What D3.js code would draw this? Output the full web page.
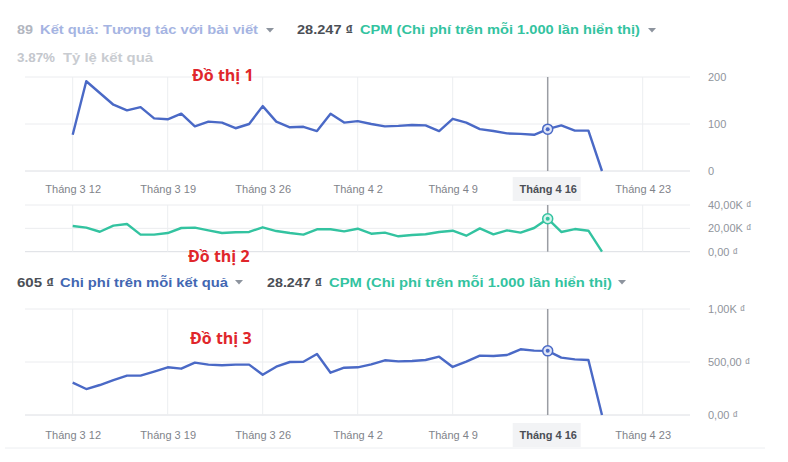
<!DOCTYPE html>
<html><head><meta charset="utf-8">
<script src="https://cdn.jsdelivr.net/npm/d3@7"></script>
<style>
html,body{margin:0;padding:0;background:#fff;}
svg{display:block;font-family:"Liberation Sans",Arial,sans-serif;}
</style></head>
<body><svg id="c" width="788" height="462"></svg>
<script>
// ---- data ----
const startDate = new Date(Date.UTC(2018, 2, 12));
const endDate = new Date(Date.UTC(2018, 3, 21));
const results = [77,191,166,141,129,136,112,110,122,95,105,103,91,100,138,105,93,94,85,122,103,106,100,95,96,98,97,85,111,103,89,85,80,79,77,89,97,86,86,0];
const cpm = [22000,20600,17100,22300,23700,14600,14600,16000,20300,20600,18300,16000,16600,16900,20900,17700,16000,14600,19200,19200,17400,19700,15400,16300,13200,14300,14900,16900,18000,13700,20000,14900,18300,16300,20300,28247,16900,19400,18000,0];
const costPerResult = [305,245,283,330,371,371,409,450,437,494,475,469,475,475,380,456,500,503,575,399,446,450,478,516,506,509,519,550,453,503,560,556,566,620,607,605,541,525,519,0];
const ticks1 = [0,100,200];
const ticks2 = [0,20000,40000];
const ticks3 = [0,500,1000];
const tickLabels1 = ["0","100","200"];
const tickLabels2 = ["0,00 ₫","20,00K ₫","40,00K ₫"];
const tickLabels3 = ["0,00 ₫","500,00 ₫","1,00K ₫"];
const hoverDate = new Date(Date.UTC(2018, 3, 16));

const dates = d3.utcDay.range(startDate, endDate);
const svg = d3.select("#c");

const BLUE = "#4a69c6", TEAL = "#33c3a0";
const x = d3.scaleUtc().domain([startDate, new Date(Date.UTC(2018,3,23))]).range([72.7, 642.7]);
const weekTicks = d3.utcMonday.range(startDate, new Date(Date.UTC(2018,3,24)));
const fmt = d => `Tháng ${d.getUTCMonth()+1} ${d.getUTCDate()}`;
const isHover = d => +d === +hoverDate;

function panel(values, yDom, yRange, tickVals, tickLabs, color, xLabelY) {
  const y = d3.scaleLinear().domain(yDom).range(yRange);
  const g = svg.append("g");
  g.selectAll("line.h").data(tickVals).join("line")
    .attr("x1", 25).attr("x2", 690)
    .attr("y1", d => y(d)).attr("y2", d => y(d))
    .attr("stroke", (d,i) => i === 0 ? "#dcdee3" : "#ebecef").attr("stroke-width", 1);
  g.selectAll("line.v").data(weekTicks).join("line")
    .attr("x1", d => x(d)).attr("x2", d => x(d))
    .attr("y1", y(yDom[1])).attr("y2", y(yDom[0]))
    .attr("stroke", d => isHover(d) ? "#9a9da3" : "#eceef0")
    .attr("stroke-width", d => isHover(d) ? 1.5 : 1);
  g.selectAll("text.yl").data(tickVals).join("text")
    .attr("x", 708).attr("y", d => y(d)).attr("dy", "0.35em")
    .attr("font-size", 11).attr("fill", "#90949c")
    .text((d,i) => tickLabs[i]);
  const line = d3.line().x((d,i) => x(dates[i])).y(d => y(d));
  g.append("path").datum(values).attr("d", line)
    .attr("fill", "none").attr("stroke", color).attr("stroke-width", 2.4)
    .attr("stroke-linejoin", "round");
  const hi = dates.findIndex(isHover);
  g.append("circle").attr("cx", x(dates[hi])).attr("cy", y(values[hi])).attr("r", 5)
    .attr("fill", color === BLUE ? "#dfe5f7" : "#d6f3ec").attr("stroke", color).attr("stroke-width", 1.5);
  g.append("circle").attr("cx", x(dates[hi])).attr("cy", y(values[hi])).attr("r", 2)
    .attr("fill", color);
  if (xLabelY) {
    const xa = d3.axisBottom(x).tickValues(weekTicks).tickSize(0).tickFormat(fmt);
    const ax = g.append("g").attr("transform", `translate(0,${xLabelY})`);
    ax.append("rect").attr("x", x(hoverDate) - 35).attr("y", -12).attr("width", 68).attr("height", 24).attr("fill", "#f2f3f5");
    ax.call(xa);
    ax.select(".domain").remove();
    ax.selectAll("text").attr("dy", "0.35em").attr("y", 0)
      .attr("font-size", 11).attr("font-family", "'Liberation Sans', Arial, sans-serif")
      .attr("fill", d => isHover(d) ? "#4b4f56" : "#7f838a")
      .attr("font-weight", d => isHover(d) ? "bold" : "normal");
  }
}

panel(results, [0,200], [171,77], ticks1, tickLabels1, BLUE, 189);
panel(cpm, [0,40000], [251.7,205], ticks2, tickLabels2, TEAL, null);
panel(costPerResult, [0,1000], [415,309], ticks3, tickLabels3, BLUE, 435);

svg.append("line").attr("x1", 5).attr("x2", 765).attr("y1", 448).attr("y2", 448).attr("stroke", "#eceef1");

// headers: each part placed at its own x with a fitted width
function header(yPos, parts) {
  parts.forEach(p => {
    const t = svg.append("text").attr("x", p.x).attr("y", yPos)
      .attr("font-size", 13.5).attr("font-weight", p.fw || "bold")
      .attr("fill", p.c).text(p.t);
    if (p.w) t.attr("textLength", p.w).attr("lengthAdjust", "spacingAndGlyphs");
  });
}
function tri(cx, cy) {
  svg.append("path").attr("d", `M${cx-4},${cy-2}L${cx+4},${cy-2}L${cx},${cy+2.5}Z`).attr("fill", "#8d949e");
}
header(34, [
  {t:"89", c:"#b2b6bf", x:17, w:16},
  {t:"Kết quả: Tương tác với bài viết", c:"#a5b4e2", x:40, w:218},
  {t:"28.247 ₫", c:"#4b4f56", x:297, w:56},
  {t:"CPM (Chi phí trên mỗi 1.000 lần hiển thị)", c:TEAL, x:360, w:280}
]);
tri(270, 30); tri(652, 30);
header(62, [
  {t:"3.87%", c:"#c4c7cd", x:17, w:38},
  {t:"Tỷ lệ kết quả", c:"#c9ccd1", x:63, w:90}
]);
header(287, [
  {t:"605 ₫", c:"#4b4f56", x:17, w:37},
  {t:"Chi phí trên mỗi kết quả", c:"#4267b2", x:60, w:168},
  {t:"28.247 ₫", c:"#4b4f56", x:267, w:55},
  {t:"CPM (Chi phí trên mỗi 1.000 lần hiển thị)", c:TEAL, x:329, w:283}
]);
tri(239, 282); tri(622, 282);

const ann = [{t:"Đồ thị 1", x:192, y:81},{t:"Đồ thị 2", x:188, y:262},{t:"Đồ thị 3", x:190, y:344}];
svg.selectAll("text.ann").data(ann).join("text")
  .attr("x", d => d.x).attr("y", d => d.y).attr("font-size", 16).attr("font-weight", "bold")
  .attr("font-family", "'Open Sans','Noto Sans',sans-serif")
  .attr("fill", "#e0262b").text(d => d.t);
</script></body></html>
